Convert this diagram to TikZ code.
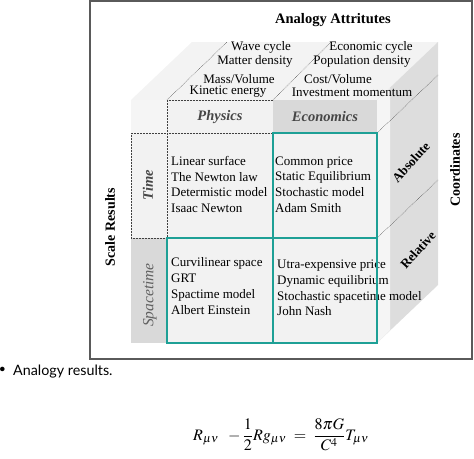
\documentclass[tikz,border=0pt]{standalone}
\usepackage{mathptmx}
\usepackage{fontspec}
\setmainfont{Liberation Serif}
\newfontfamily\capfont{Lato}
\definecolor{cellgray}{RGB}{242,242,242}
\definecolor{darkcell}{RGB}{217,217,217}
\definecolor{sidegray}{RGB}{221,221,221}
\definecolor{topgray}{RGB}{243,243,243}
\definecolor{tealline}{RGB}{30,160,150}
\definecolor{framegray}{RGB}{90,90,90}
\definecolor{headgray}{RGB}{70,70,70}
\tikzset{
  celltext/.style={anchor=west,align=left,inner sep=0pt,font=\fontsize{13}{15.7}\selectfont},
  toptext/.style={inner sep=0pt,font=\fontsize{13}{15}\selectfont},
  headtext/.style={font=\fontsize{14.5}{17}\selectfont\bfseries\itshape,text=headgray},
  boldlabel/.style={font=\fontsize{14}{16}\selectfont\bfseries},
  dotline/.style={densely dotted,line width=0.5pt,draw=black!75},
  tealbox/.style={draw=tealline,line width=1.3pt}
}
\begin{document}
\begin{tikzpicture}[x=1pt,y=-1pt]
  \useasboundingbox (0,0) rectangle (474,458);
  % frame
  \draw [framegray,line width=1.3pt] (90,1) rectangle (472,359);
  % top and side faces of the cube
  \fill [topgray] (131,100) -- (377,100) -- (438,42) -- (192,42) -- cycle;
  \fill [sidegray] (377,100) -- (438,42) -- (438,285) -- (377,343) -- cycle;
  \fill [gray!8] (377,100) -- (390,88) -- (390,330) -- (377,343) -- cycle;
  % front face
  \fill [cellgray!80!white] (131,100) rectangle (167,133);
  \fill [cellgray] (167,100) rectangle (273,133);
  \fill [darkcell] (273,100) rectangle (377,133);
  \fill [cellgray] (131,133) rectangle (167,238);
  \fill [darkcell] (131,238) rectangle (167,343);
  \fill [cellgray] (167,133) rectangle (377,343);
  % dotted edges
  \draw [dotline] (167,133) -- (167,100) -- (273,100);
  \draw [dotline] (131,133) rectangle (167,238);
  \draw [dotline] (167,133) -- (273,133);
  \draw [dotline] (167,100) -- (227,42);
  \draw [dotline] (273,100) -- (331,42);
  \draw [dotline] (377,133) -- (438,75);
  \draw [dotline] (377,238) -- (438,180);
  % texts
  \node (title) [boldlabel,font=\fontsize{14.5}{16}\selectfont\bfseries] at (333,20) {Analogy Attritutes};
  \node (wave) [toptext] at (261,47) {Wave cycle};
  \node (matter) [toptext] at (255,61) {Matter density};
  \node (mass) [toptext] at (239,79) {Mass/Volume};
  \node (kinetic) [toptext] at (228,92) {Kinetic energy};
  \node (ecocycle) [toptext] at (371,47) {Economic cycle};
  \node (popdens) [toptext] at (362,61) {Population density};
  \node (cost) [toptext] at (338,79) {Cost/Volume};
  \node (invest) [toptext] at (352,92) {Investment momentum};
  \node (physics) [headtext] at (220,117) {Physics};
  \node (economics) [headtext] at (325,117) {Economics};
  \node (time) [headtext,rotate=90] at (148,185) {Time};
  \node (spacetime) [headtext,font=\fontsize{15.5}{17}\selectfont\itshape,text=gray!75!black,rotate=90] at (150,295) {Spacetime};
  \node (newton) [celltext] at (171,184.5) {Linear surface\\The Newton law\\Determistic model\\Isaac Newton};
  \node (smith) [celltext] at (275,184.5) {Common price\\Static Equilibrium\\Stochastic model\\Adam Smith};
  \node (einstein) [celltext] at (171,286) {Curvilinear space\\GRT\\Spactime model\\Albert Einstein};
  \node (nash) [celltext] at (277,288) {Utra-expensive price\\Dynamic equilibrium\\Stochastic spacetime model\\John Nash};
  \node (absolute) [boldlabel,font=\fontsize{13}{15}\selectfont\bfseries,rotate=48,inner sep=1pt] at (411,162) {Absolute};
  \node (relative) [boldlabel,font=\fontsize{13}{15}\selectfont\bfseries,rotate=48,inner sep=1pt] at (418,250) {Relative};
  \node (coord) [boldlabel,rotate=90] at (455,170) {Coordinates};
  \node (scale) [boldlabel,rotate=90] at (110,227) {Scale Results};
  % teal grid
  \draw [tealbox] (273,133) rectangle (377,238);
  \draw [tealbox] (167,238) rectangle (273,343);
  \draw [tealbox] (273,238) rectangle (377,343);
  % caption and equation
  \node (capdot) [inner sep=0pt] at (2.5,369) {\capfont\fontsize{30}{30}\selectfont\bfseries .};
  \node (caption) [anchor=west,inner sep=0pt] at (13,372) {\capfont\fontsize{14.3}{16}\selectfont Analogy results.};
  \node (einsteineq) [anchor=base west,inner sep=0pt] at (193,440) {\fontsize{16}{19}\selectfont $\displaystyle R_{\mu\nu}\;\;-\frac{1}{2}Rg_{\mu\nu}\;=\;\frac{8\pi G}{C^4}T_{\mu\nu}$};
\end{tikzpicture}
\end{document}
